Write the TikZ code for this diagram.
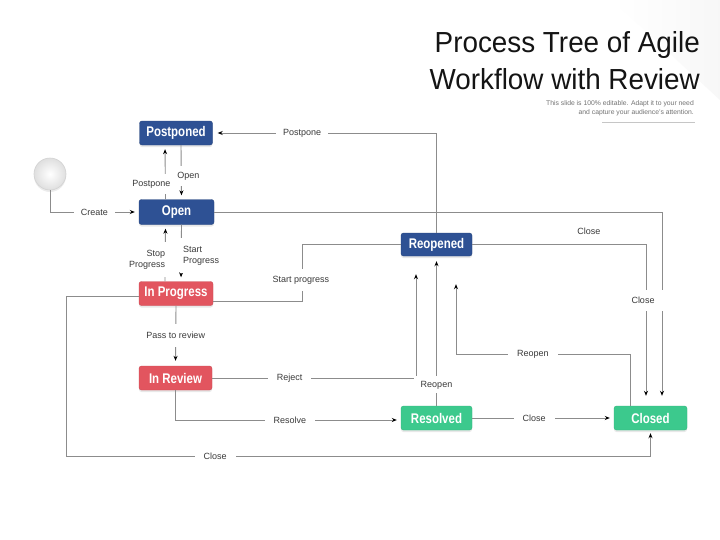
\documentclass[tikz,border=0pt]{standalone}
\usepackage{fontspec}
\setmainfont{Liberation Sans}
\newfontfamily\boxfont[FakeStretch=0.82]{Liberation Sans}
\newfontfamily\titlefont[FakeStretch=0.96]{Liberation Sans}
\usetikzlibrary{arrows.meta,shadows,calc}
\definecolor{boxblue}{HTML}{2E5194}
\definecolor{boxred}{HTML}{E2555F}
\definecolor{boxgreen}{HTML}{3CC98D}
\definecolor{linegray}{HTML}{8C8C8C}
\definecolor{labtext}{HTML}{3A3A3A}
\begin{document}
\begin{tikzpicture}[x=1pt,y=-1pt,
  statebox/.style={rounded corners=2.5pt, minimum height=24pt, inner sep=0pt, text=white,
    font=\boxfont\bfseries\fontsize{14}{16}\selectfont,
    drop shadow={shadow xshift=0pt, shadow yshift=-2pt, opacity=0.18}},
  bluebox/.style={statebox, fill=boxblue, draw=boxblue!85!black, line width=0.4pt},
  redbox/.style={statebox, fill=boxred, draw=boxred!90!black, line width=0.4pt},
  greenbox/.style={statebox, fill=boxgreen, draw=boxgreen!90!black, line width=0.4pt},
  startc/.style={circle, minimum size=32pt, inner sep=0pt, draw=gray!35, line width=0.6pt,
    inner color=white, outer color=gray!25,
    drop shadow={shadow xshift=0pt, shadow yshift=-2pt, opacity=0.15}},
  conn/.style={draw=linegray, line width=0.9pt},
  arr/.style={conn, -{Stealth[length=5pt,width=4pt,color=black]}, shorten >=4pt},
  lab/.style={fill=white, text=labtext, font=\fontsize{9}{11}\selectfont, inner xsep=7pt, inner ysep=4pt, align=center},
]
\useasboundingbox (0,0) rectangle (720,539);
\fill[white] (0,0) rectangle (720,539);
\shade[left color=white, right color=gray!6] (612,0) -- (720,0) -- (720,100) -- cycle;

% title
\node[anchor=north east, align=right, inner sep=0pt, font=\titlefont\fontsize{29}{37.5}\selectfont, text=black!92] (title) at (700,31) {Process Tree of Agile\\Workflow with Review};
\node[anchor=north east, align=right, inner sep=0pt, font=\fontsize{6.8}{9.5}\selectfont, text=black!55] (sub) at (694,100) {This slide is 100\% editable. Adapt it to your need\\and capture your audience's attention.};
\draw[gray!45, line width=0.5pt] (602,122) -- (695,122);

% nodes
\node[startc] (start) at (50,174) {};
\node[bluebox, minimum width=73pt] (post) at (176,133) {Postponed};
\node[bluebox, minimum width=75pt, minimum height=25pt] (open) at (176.5,212) {Open};
\node[redbox, minimum width=74pt] (prog) at (176,293.5) {In Progress};
\node[redbox, minimum width=73pt] (rev) at (175.5,378) {In Review};
\node[bluebox, minimum width=71pt, minimum height=23pt] (reop) at (436.5,244.5) {Reopened};
\node[greenbox, minimum width=71pt] (res) at (436.5,418) {Resolved};
\node[greenbox, minimum width=73pt] (clo) at (650.5,418) {Closed};

% connectors
\draw[arr] (start.south) |- node[lab, pos=0.75] {Create} (open.west);
\draw[arr] ([xshift=-11pt]open.north) -- node[lab, pos=0.28, xshift=-14pt, inner xsep=2pt, inner ysep=6pt] {Postpone} ([xshift=-11pt]post.south);
\draw[arr] ([xshift=5pt]post.south) -- node[lab, pos=0.57, xshift=7pt, inner xsep=2pt, inner ysep=6pt] {Open} ([xshift=5pt]open.north);
\draw[arr] ([xshift=-11pt]prog.north) -- node[lab, pos=0.38, xshift=-18pt, inner xsep=2pt, inner ysep=8pt, align=right] {Stop\\Progress} ([xshift=-11pt]open.south);
\draw[arr] ([xshift=5pt]open.south) -- node[lab, pos=0.55, xshift=20pt, inner xsep=3pt, inner ysep=8pt, align=left] {Start\\Progress} ([xshift=5pt]prog.north);
\draw[arr, shorten >=5pt] (prog.south) -- node[lab, pos=0.5, inner ysep=8pt] {Pass to review} (rev.north);
\draw[arr, shorten >=18pt] (rev.east) -| node[lab, pos=0.19, inner xsep=9pt] {Reject} ([xshift=-20.5pt]reop.south);
\draw[arr] (rev.south) |- node[lab, pos=0.754, inner xsep=9pt] {Resolve} ([yshift=-2pt]res.west);
\draw[arr, shorten >=5pt] (res.north) -- node[lab, pos=0.14, inner xsep=7pt, inner ysep=4.5pt] {Reopen} (reop.south);
\draw[arr, shorten >=28pt] ([xshift=-20.5pt]clo.north) -- ++(0,-51) -| node[lab, pos=0.279, inner xsep=9pt] {Reopen} ([xshift=19.5pt]reop.south);
\draw[arr] (res.east) -- node[lab, pos=0.437, inner xsep=9pt] {Close} (clo.west);
\draw[arr, shorten >=3pt] ([yshift=-3pt]prog.west) -| ++(-72,160) -| node[lab, pos=0.127, inner xsep=9pt] {Close} (clo.south);
\draw[arr, shorten >=10pt] (open.east) -| ([xshift=11.5pt]clo.north);
\draw[arr, shorten >=10pt] (reop.east) -| node[lab, pos=0.336, yshift=13.5pt, fill=none] {Close} node[lab, pos=0.673, xshift=-3pt, inner xsep=10pt, inner ysep=7pt] {Close} ([xshift=-4.5pt]clo.north);
\draw[arr, shorten >=5pt] (reop.north) |- node[lab, pos=0.8, inner xsep=7pt] {Postpone} (post.east);
\draw[conn] (reop.west) -- ++(-98,0) |- node[lab, pos=0.314, xshift=-2pt, inner ysep=7pt] {Start progress} ([yshift=-7.5pt]prog.east);
\end{tikzpicture}
\end{document}
